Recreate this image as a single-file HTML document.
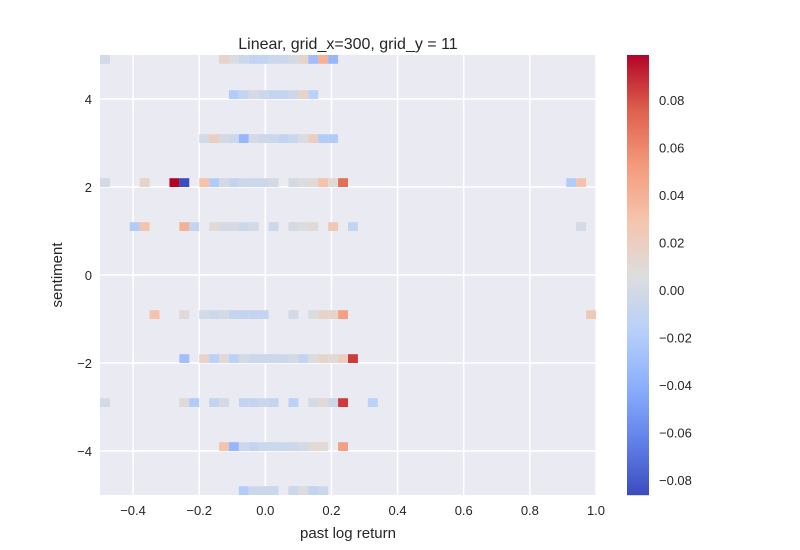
<!DOCTYPE html>
<html><head><meta charset="utf-8"><style>
body{margin:0;background:#fff;}
svg{display:block;font-family:"Liberation Sans","DejaVu Sans",sans-serif;}
</style></head><body>
<svg id="c" width="800" height="550"></svg>
<script>
// sentiment bin lower edges (rows)
const rowY = [4.8, 4, 3, 2, 1, -1, -2, -3, -4, -5];
// x bin indices per row (bin width 0.03 starting at -0.5)
const rowBins = [
 [0,12,13,14,15,16,17,18,19,20,21,22,23],
 [13,14,15,16,17,18,19,20,21],
 [10,11,12,13,14,15,16,17,18,19,20,21,22,23],
 [0,4,7,8,10,11,12,13,14,15,16,17,19,20,21,22,23,24,47,48],
 [3,4,8,9,11,12,13,14,15,17,19,20,21,23,25,48],
 [5,8,10,11,12,13,14,15,16,19,21,22,23,24,49],
 [8,10,11,12,13,14,15,16,17,18,19,20,21,22,23,24,25],
 [0,8,9,11,12,14,15,16,17,19,21,22,23,24,27],
 [12,13,14,15,16,17,18,19,20,21,22,24],
 [14,15,16,17,19,20,21,22]
];
const rowVals = [
 [0,0.015,0.005,-0.005,-0.01,-0.01,-0.005,-0.005,0,0.015,-0.03,0.04,-0.035],
 [-0.02,-0.01,0,-0.005,-0.01,-0.01,-0.005,0.015,-0.015],
 [0,0.02,0,-0.005,-0.035,0,-0.005,-0.005,-0.01,-0.005,0.005,0.02,-0.02,-0.02],
 [0,0.015,0.099,-0.086,0.03,-0.02,0,-0.01,-0.005,-0.005,-0.005,0,0,0.005,0.01,0.03,0.01,0.07,-0.02,0.03],
 [-0.02,0.03,0.04,-0.01,0.01,0,0,-0.005,0,-0.005,0,0.005,0.01,0.025,-0.01,0],
 [0.03,0.01,0,-0.005,0,-0.01,-0.01,-0.01,-0.01,0,0.005,0.015,0.015,0.05,0.025],
 [-0.03,0.015,-0.015,0.01,-0.015,0,-0.005,-0.005,-0.005,-0.005,0,-0.01,0.005,0.015,0.01,0.02,0.085],
 [0,0.01,-0.02,-0.01,0,-0.01,-0.01,-0.005,-0.01,-0.015,0,0.01,-0.005,0.085,-0.015],
 [0.03,-0.035,-0.005,-0.01,-0.005,-0.005,-0.005,-0.005,0,0.01,0.01,0.05],
 [-0.02,-0.005,-0.005,-0.005,-0.005,0.005,-0.01,-0.005]
];
const xTicks = [-0.4,-0.2,0.0,0.2,0.4,0.6,0.8,1.0];
const xTickLabels = ["\u22120.4","\u22120.2","0.0","0.2","0.4","0.6","0.8","1.0"];
const yTicks = [4,2,0,-2,-4];
const yTickLabels = ["4","2","0","\u22122","\u22124"];
const cbTicks = [0.08,0.06,0.04,0.02,0,-0.02,-0.04,-0.06,-0.08];
const cbTickLabels = ["0.08","0.06","0.04","0.02","0.00","\u22120.02","\u22120.04","\u22120.06","\u22120.08"];

const L=100,R=596,T=55,B=495, X0=-0.5,X1=1.0,Y0=-5,Y1=5, BW=0.03, BH=0.2;
const VMIN=-0.0863, VMAX=0.0989;
const xs=v=>L+(v-X0)/(X1-X0)*(R-L);
const ys=v=>B-(v-Y0)/(Y1-Y0)*(B-T);
const binX=k=>X0+k*BW;
const CB_L=627,CB_R=649;
const cs=v=>B-(v-VMIN)/(VMAX-VMIN)*(B-T);
const stops=[[59,76,192],[98,130,234],[141,176,254],[184,208,249],[221,221,221],[245,196,173],[244,154,123],[222,96,77],[180,4,38]];
function cmap(v){let t=(v-VMIN)/(VMAX-VMIN);t=Math.max(0,Math.min(1,t));const p=t*8,i=Math.min(7,Math.floor(p)),f=p-i;
 const a=stops[i],b=stops[i+1];return `rgb(${a.map((c,j)=>Math.round(c+(b[j]-c)*f)).join(',')})`;}
const NS="http://www.w3.org/2000/svg", svg=document.getElementById('c');
function mk(tag,at,parent){const e=document.createElementNS(NS,tag);for(const k in at)e.setAttribute(k,at[k]);(parent||svg).appendChild(e);return e;}

const bg=mk('rect',{x:L,y:T,width:R-L,height:B-T,fill:'#EAEAF2'});


const grid=mk('g',{});


xTicks.forEach(v=>{const l=mk('line',{x1:xs(v),x2:xs(v),y1:T,y2:B,stroke:'#fff','stroke-width':1.5},grid);
 
 });
yTicks.forEach(v=>{const l=mk('line',{x1:L,x2:R,y1:ys(v),y2:ys(v),stroke:'#fff','stroke-width':1.5},grid);
 
 });

const cells=mk('g',{});


rowY.forEach((y,r)=>{rowBins[r].forEach((k,i)=>{const x=binX(k);
 const e=mk('rect',{x:xs(x),y:ys(y+BH),width:xs(x+BW)-xs(x),height:ys(y)-ys(y+BH),fill:cmap(rowVals[r][i])},cells);
 
 });});

xTicks.forEach((v,i)=>{const t=mk('text',{x:xs(v),y:B+20,'text-anchor':'middle','font-size':13,fill:'#262626'});t.textContent=xTickLabels[i];
 
 });
yTicks.forEach((v,i)=>{const t=mk('text',{x:L-8,y:ys(v)+5,'text-anchor':'end','font-size':13,fill:'#262626'});t.textContent=yTickLabels[i];
 
 });

const cb=mk('g',{});


for(let p=T;p<B;p++){const v=VMAX-(p-T+0.5)/(B-T)*(VMAX-VMIN);mk('rect',{x:CB_L,y:p,width:CB_R-CB_L,height:1.2,fill:cmap(v)},cb);}
cbTicks.forEach((v,i)=>{const t=mk('text',{x:CB_R+10,y:cs(v)+5,'font-size':13,fill:'#262626'},cb);t.textContent=cbTickLabels[i];
 
 });

const ti=mk('text',{x:348,y:49,'text-anchor':'middle','font-size':16,fill:'#262626'});ti.textContent='Linear, grid_x=300, grid_y = 11';


const xl=mk('text',{x:348,y:538,'text-anchor':'middle','font-size':15,fill:'#262626'});xl.textContent='past log return';


const yl=mk('text',{x:62,y:275,'text-anchor':'middle','font-size':15,fill:'#262626',transform:'rotate(-90 62 275)'});yl.textContent='sentiment';


</script>
</body></html>
